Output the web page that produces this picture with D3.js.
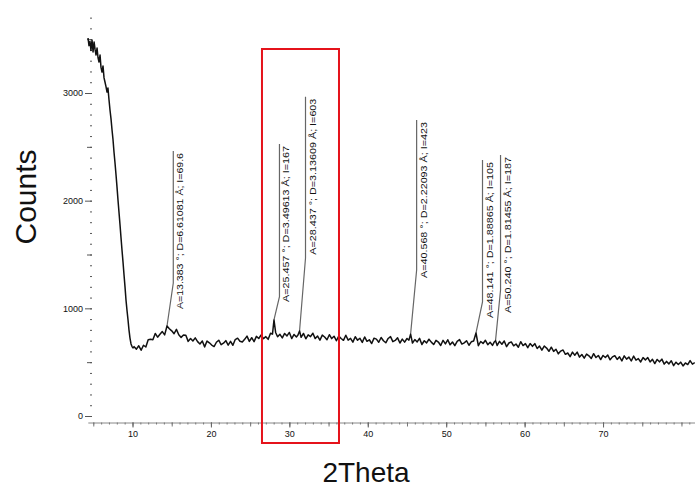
<!DOCTYPE html>
<html>
<head>
<meta charset="utf-8">
<script src="https://cdn.jsdelivr.net/npm/d3@7"></script>
<style>
  body { margin: 0; background: #fff; }
  text { font-family: "Liberation Sans", Arial, sans-serif; }
</style>
</head>
<body>
<div id="chart"></div>
<script>
// XRD scan, [2theta, counts]
var scan = [
  [4.33,3511],[4.45,3440],[4.58,3478],[4.70,3395],[4.84,3492],[4.97,3381],[5.10,3474],[5.23,3402],[5.35,3353],[5.48,3418],
  [5.60,3330],[5.73,3288],[5.86,3353],[5.98,3240],[6.11,3195],[6.24,3251],[6.37,3140],[6.49,3102],[6.62,3060],[6.75,3009],
  [6.87,3046],[7.00,2940],[7.13,2842],[7.26,2760],[7.39,2656],[7.51,2570],[7.64,2452],[7.77,2350],[7.90,2238],[8.02,2130],
  [8.15,2006],[8.28,1890],[8.41,1774],[8.53,1660],[8.66,1542],[8.79,1430],[8.92,1310],[9.05,1195],[9.17,1077],[9.30,980],
  [9.43,892],[9.55,800],[9.68,724],[9.81,669],[9.94,645],[10.06,632],
  [10.2,644],[10.5,621],[10.8,652],[11.1,611],[11.4,657],[11.7,641],[12.0,708],[12.3,713],[12.6,709],[12.9,767],
  [13.2,732],[13.5,759],[13.8,784],[14.1,753],[14.40,836],[14.7,811],[15.0,791],[15.3,764],[15.6,805],[15.9,755],
  [16.2,730],[16.5,752],[16.8,751],[17.1,693],[17.4,720],[17.7,696],[18.0,726],[18.3,691],[18.6,669],[18.9,697],
  [19.2,642],[19.5,696],[19.8,680],[20.1,659],[20.4,645],[20.7,685],[21.0,704],[21.3,662],[21.6,676],[21.9,700],
  [22.2,658],[22.5,693],[22.8,657],[23.1,710],[23.4,723],[23.7,694],[24.0,687],[24.3,712],[24.6,742],[24.9,693],
  [25.2,727],[25.5,691],[25.8,740],[26.1,720],[26.4,752],[26.7,719],[27.0,737],[27.3,712],[27.6,769],[27.85,760],
  [28.04,892],[28.25,776],[28.5,736],[28.8,759],[29.1,725],[29.4,767],[29.7,744],[30.0,776],[30.3,719],[30.6,757],
  [30.9,734],[31.1,752],[31.30,790],[31.5,731],[31.8,767],[32.1,717],[32.4,754],[32.7,737],[33.0,769],[33.3,719],
  [33.6,743],[33.9,705],[34.2,751],[34.5,734],[34.8,708],[35.1,755],[35.4,719],[35.7,741],[36.0,699],[36.3,743],
  [36.6,720],[36.9,703],[37.2,750],[37.5,705],[37.8,721],[38.1,686],[38.4,736],[38.7,704],[39.0,722],[39.3,684],
  [39.6,734],[39.9,694],[40.2,708],[40.5,673],[40.8,723],[41.1,714],[41.4,685],[41.7,729],[42.0,699],[42.3,680],
  [42.6,720],[42.9,737],[43.2,691],[43.5,702],[43.8,726],[44.1,678],[44.4,714],[44.7,686],[45.0,720],[45.25,705],
  [45.46,760],[45.7,678],[46.0,710],[46.3,688],[46.6,721],[46.9,664],[47.2,699],[47.5,679],[47.8,713],[48.1,686],
  [48.4,664],[48.7,703],[49.0,687],[49.3,655],[49.6,703],[49.9,670],[50.2,708],[50.5,661],[50.8,687],[51.1,654],
  [51.4,694],[51.7,710],[52.0,668],[52.3,679],[52.6,699],[52.9,657],[53.2,689],[53.5,696],[53.80,771],[54.1,653],
  [54.4,692],[54.7,674],[55.0,703],[55.3,662],[55.6,685],[55.9,656],[56.1,684],[56.29,700],[56.5,655],[56.8,693],
  [57.1,666],[57.4,697],[57.7,644],[58.0,678],[58.3,688],[58.6,652],[58.9,669],[59.2,639],[59.5,690],[59.8,654],
  [60.1,672],[60.4,634],[60.7,673],[61.0,647],[61.3,672],[61.6,627],[61.9,650],[62.2,611],[62.5,650],[62.8,631],
  [63.1,601],[63.4,639],[63.7,600],[64.0,620],[64.3,577],[64.6,603],[64.9,613],[65.2,573],[65.5,585],[65.8,551],
  [66.1,593],[66.4,565],[66.7,593],[67.0,547],[67.3,571],[67.6,537],[67.9,575],[68.2,559],[68.5,534],[68.8,579],
  [69.1,543],[69.4,562],[69.7,524],[70.0,562],[70.3,543],[70.6,566],[70.9,522],[71.2,549],[71.5,560],[71.8,525],
  [72.1,550],[72.4,512],[72.7,559],[73.0,528],[73.3,547],[73.6,511],[73.9,556],[74.2,519],[74.5,533],[74.8,502],
  [75.1,542],[75.4,521],[75.7,543],[76.0,502],[76.3,526],[76.6,487],[76.9,525],[77.2,503],[77.5,528],[77.8,482],
  [78.1,507],[78.4,484],[78.7,513],[79.0,468],[79.3,500],[79.6,479],[79.9,500],[80.2,465],[80.5,493],[80.8,478],
  [81.1,515],[81.4,482],[81.7,496]
];

// peak annotations
var peakLabels = [
  "A=13.383 °; D=6.61081 Å; I=69.6",
  "A=25.457 °; D=3.49613 Å; I=167",
  "A=28.437 °; D=3.13609 Å; I=603",
  "A=40.568 °; D=2.22093 Å; I=423",
  "A=48.141 °; D=1.88865 Å; I=105",
  "A=50.240 °; D=1.81455 Å; I=187"
];
var peakTheta   = [14.40, 28.04, 31.30, 45.46, 53.80, 56.29];
var peakCounts  = [836, 892, 790, 760, 771, 700];
var leaderTheta = [15.20, 28.74, 32.06, 46.23, 54.63, 56.93];
var leaderJoint = [1235, 1108, 1467, 1356, 1059, 1170];
var leaderTop   = [2461, 2526, 2966, 2749, 2378, 2424];

var xTicks = [10, 20, 30, 40, 50, 60, 70];
var yTicks = [0, 1000, 2000, 3000];

var width = 695, height = 489;

var svg = d3.select("#chart")
  .append("svg")
    .attr("width", width)
    .attr("height", height);

var x = d3.scaleLinear().domain([4.3, 81.7]).range([87.8, 694.8]);
var y = d3.scaleLinear().domain([0, 3000]).range([416, 93]);

// x axis: minor ticks every 1, medium every 5, labelled every 10
var xAxisY = 422.5;
svg.append("g")
    .attr("transform", "translate(0," + xAxisY + ")")
    .call(d3.axisBottom(x).tickValues(d3.range(5, 82, 1)).tickSize(2).tickSizeOuter(0).tickFormat(""))
    .call(function(g) { g.select(".domain").attr("stroke", "#888"); g.selectAll("line").attr("stroke", "#777"); });
svg.append("g")
    .attr("transform", "translate(0," + xAxisY + ")")
    .call(d3.axisBottom(x).tickValues(d3.range(5, 82, 5)).tickSize(4).tickFormat(""))
    .call(function(g) { g.select(".domain").remove(); g.selectAll("line").attr("stroke", "#777"); });
svg.append("g")
    .attr("transform", "translate(0," + xAxisY + ")")
    .call(d3.axisBottom(x).tickValues(xTicks).tickSize(5).tickPadding(3).tickFormat(d3.format("d")))
    .call(function(g) {
      g.select(".domain").remove();
      g.selectAll("line").attr("stroke", "#666");
      g.selectAll("text").attr("font-size", "9px").attr("fill", "#111").attr("font-family", "Liberation Sans");
    });

// y axis: no line, dotted minor ticks
var yAxisX = 92;
svg.append("g")
    .attr("transform", "translate(" + yAxisX + ",0)")
    .call(d3.axisLeft(y).tickValues(d3.range(100, 3800, 100)).tickSize(2).tickFormat(""))
    .call(function(g) { g.select(".domain").remove(); g.selectAll("line").attr("stroke", "#555"); });
svg.append("g")
    .attr("transform", "translate(" + yAxisX + ",0)")
    .call(d3.axisLeft(y).tickValues([500, 1500, 2500, 3500]).tickSize(5).tickFormat(""))
    .call(function(g) { g.select(".domain").remove(); g.selectAll("line").attr("stroke", "#555"); });
svg.append("g")
    .attr("transform", "translate(" + yAxisX + ",0)")
    .call(d3.axisLeft(y).tickValues(yTicks).tickSize(7).tickPadding(2).tickFormat(d3.format("d")))
    .call(function(g) {
      g.select(".domain").remove();
      g.selectAll("line").attr("stroke", "#555");
      g.selectAll("text").attr("font-size", "9px").attr("fill", "#111").attr("font-family", "Liberation Sans");
    });

// leader lines for the peak labels
var peaks = peakLabels.map(function(l, i) {
  return { label: l, t: peakTheta[i], c: peakCounts[i], lt: leaderTheta[i], lj: leaderJoint[i], top: leaderTop[i] };
});

svg.append("g")
  .selectAll("path")
  .data(peaks)
  .enter()
  .append("path")
    .attr("d", function(d) {
      return "M" + x(d.t) + "," + y(d.c) + "L" + x(d.lt) + "," + y(d.lj) + "L" + x(d.lt) + "," + y(d.top);
    })
    .attr("fill", "none")
    .attr("stroke", "#666")
    .attr("stroke-width", 1.2);

// the scan
var line = d3.line()
  .x(function(d) { return x(d[0]); })
  .y(function(d) { return y(d[1]); });

svg.append("path")
  .datum(scan)
  .attr("d", line)
  .attr("fill", "none")
  .attr("stroke", "#111")
  .attr("stroke-width", 1.5)
  .attr("stroke-linejoin", "round");

svg.append("g")
  .selectAll("text")
  .data(peaks)
  .enter()
  .append("text")
    .attr("transform", function(d) { return "translate(" + (x(d.lt) + 10) + "," + (y(d.top) + 2) + ") rotate(-90)"; })
    .attr("text-anchor", "end")
    .attr("font-size", "9px")
    .attr("fill", "#111")
    .attr("textLength", 156)
    .attr("lengthAdjust", "spacingAndGlyphs")
    .text(function(d) { return d.label; });

// axis titles
svg.append("text")
    .attr("transform", "translate(36,197) rotate(-90)")
    .attr("text-anchor", "middle")
    .attr("font-size", "30px")
    .attr("fill", "#111")
    .text("Counts");

svg.append("text")
    .attr("x", 366)
    .attr("y", 482)
    .attr("text-anchor", "middle")
    .attr("font-size", "28px")
    .attr("fill", "#111")
    .text("2Theta");

// red highlight box around the 25-28 deg peaks
svg.append("rect")
    .attr("x", x(26.51))
    .attr("y", 49)
    .attr("width", x(36.33) - x(26.51))
    .attr("height", 394)
    .attr("fill", "none")
    .attr("stroke", "#e5131b")
    .attr("stroke-width", 2);
</script>
</body>
</html>
